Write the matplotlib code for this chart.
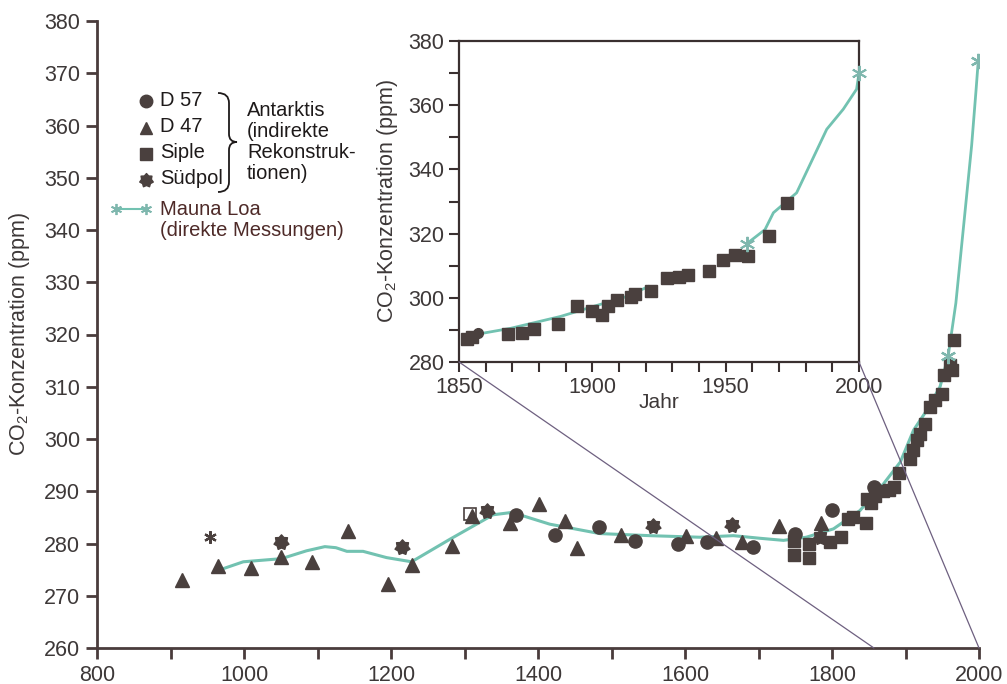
import numpy as np
import matplotlib
matplotlib.use("Agg")
import matplotlib.pyplot as plt
from matplotlib.path import Path
from matplotlib.patches import ConnectionPatch, PathPatch

plt.rcParams['font.family'] = ['Liberation Sans', 'DejaVu Sans']
plt.rcParams['mathtext.default'] = 'regular'

# ---------------- data (main chart) ----------------
d57_year = [1370, 1423, 1483, 1532, 1591, 1630, 1692, 1750, 1800, 1857]
d57_ppm = [285.5, 281.6, 283.2, 280.5, 279.9, 280.3, 279.4, 281.9, 286.5, 290.8]

d47_year = [916, 964, 1010, 1051, 1092, 1141, 1196, 1228, 1283, 1310, 1362, 1402,
            1437, 1453, 1513, 1602, 1642, 1678, 1728, 1785]
d47_ppm = [273.1, 275.7, 275.4, 277.5, 276.5, 282.4, 272.2, 275.9, 279.6, 285.3, 284.0, 287.6,
           284.4, 279.1, 281.6, 281.5, 281.0, 280.2, 283.4, 283.9]

siple_year = [1748, 1748, 1769, 1769, 1797, 1812, 1822, 1829, 1846, 1847, 1853, 1858,
              1870, 1877, 1884, 1891, 1906, 1910, 1915, 1920, 1926, 1933, 1940, 1949,
              1952, 1960, 1963, 1966]
siple_ppm = [280.5, 277.8, 280.0, 277.3, 280.2, 281.2, 284.7, 285.0, 284.0, 288.5, 287.8, 289.0,
             290.0, 290.3, 290.8, 293.5, 296.2, 297.8, 299.8, 301.0, 302.9, 306.2, 307.4, 308.7,
             312.3, 314.2, 313.2, 319.0]

suedpol_year = [1050, 1215, 1330, 1556, 1664, 1784]
suedpol_ppm = [280.3, 279.4, 286.2, 283.4, 283.6, 281.2]

open_square_year = [1308]
open_square_ppm = [285.6]

asterisk_year = [954]
asterisk_ppm = [281.2]

spline_year = [970, 999, 1051, 1085, 1110, 1125, 1140, 1162, 1194, 1228, 1280, 1339, 1362, 1375,
               1416, 1484, 1552, 1620, 1666, 1702, 1734, 1765, 1802, 1838, 1870, 1893,
               1911, 1929, 1947, 1958]
spline_ppm = [275.1, 276.5, 277.1, 278.6, 279.4, 279.2, 278.5, 278.5, 277.3, 276.5, 280.8, 285.5, 285.9, 285.5,
              283.7, 281.9, 281.5, 281.2, 281.5, 281.0, 280.6, 281.2, 282.8, 286.3, 291.4, 295.6,
              301.7, 305.5, 310.0, 315.8]

mauna_year = [1958, 1968.5, 1980, 1990, 1996, 1999]
mauna_ppm = [315.8, 326.0, 342.1, 356.2, 366.8, 372.4]
mauna_star_year = [1958, 1999]
mauna_star_ppm = [315.8, 372.4]

# ---------------- data (inset) ----------------
in_siple_year = [1853, 1855, 1868.5, 1873.7, 1878.1, 1887.2, 1894.4, 1899.8, 1903.8, 1906,
                 1909.4, 1914.4, 1916, 1921.9, 1928.1, 1932.6, 1936, 1943.9, 1949.1, 1953.5,
                 1958.5, 1966.3, 1972.9]
in_siple_ppm = [287.1, 287.9, 288.75, 289.0, 290.2, 291.9, 297.3, 295.9, 294.7, 297.3,
                299.4, 300.4, 301.25, 302.0, 306.1, 306.4, 307.2, 308.5, 311.7, 313.4,
                313.1, 319.2, 329.6]
in_d57_year = [1857]
in_d57_ppm = [289.0]
in_spline_year = [1853, 1869.4, 1888.1, 1900.4, 1912.9, 1921]
in_spline_ppm = [288.1, 290.5, 294.2, 297.3, 300.4, 303.5]
in_mauna_year = [1958, 1964.75, 1967.9, 1976.6, 1987.9, 1994.1, 1999.1, 2000]
in_mauna_ppm = [316.9, 321.25, 326.5, 332.7, 352.5, 358.75, 365.0, 370.0]
in_mauna_star_year = [1958, 2000]
in_mauna_star_ppm = [316.9, 370.0]

# ---------------- ticks / labels ----------------
main_xticks = list(range(800, 2001, 100))
main_xticklabels = ['800', '', '1000', '', '1200', '', '1400', '', '1600', '', '1800', '', '2000']
main_yticks = list(range(260, 381, 10))
inset_xticks = [1850, 1900, 1950, 2000]
inset_yticks = [280, 300, 320, 340, 360, 380]
ylabel_text = 'CO$_2$-Konzentration (ppm)'
inset_xlabel = 'Jahr'
legend_series = ['D 57', 'D 47', 'Siple', 'Südpol']
legend_group = 'Antarktis\n(indirekte\nRekonstruk-\ntionen)'
legend_mauna = 'Mauna Loa\n(direkte Messungen)'

# ---------------- styles ----------------
DARK = '#4a403e'
TEAL = '#72c2b1'
TXT = '#3d3838'
CONN = '#6e6080'

# 7-pointed fat star marker
n = 7
ang = np.linspace(0, 2 * np.pi, 2 * n, endpoint=False) + np.pi / 2
rad = np.where(np.arange(2 * n) % 2 == 0, 1.0, 0.72)
verts = np.column_stack([rad * np.cos(ang), rad * np.sin(ang)])
verts = np.vstack([verts, verts[0]])
STAR7 = Path(verts, [Path.MOVETO] + [Path.LINETO] * (2 * n - 1) + [Path.CLOSEPOLY])

W, H = 1007, 684
fig = plt.figure(figsize=(W / 100, H / 100), dpi=100)
ax = fig.add_axes([97 / W, 36 / H, 882 / W, 627 / H])

ax.plot(spline_year, spline_ppm, color=TEAL, lw=2.2, zorder=2, solid_capstyle='round',
        solid_joinstyle='round')
ax.plot(mauna_year, mauna_ppm, color=TEAL, lw=2.0, zorder=2)
ax.plot(mauna_star_year, mauna_star_ppm, ls='none', marker=(6, 2, 0), ms=11, mew=1.6,
        color='#7fb7ae', zorder=4)

ms = 9.5
ax.plot(d57_year, d57_ppm, ls='none', marker='o', ms=ms, color=DARK, zorder=3)
ax.plot(d47_year, d47_ppm, ls='none', marker='^', ms=ms, color=DARK, zorder=3)
ax.plot(siple_year, siple_ppm, ls='none', marker='s', ms=8, color=DARK, zorder=3)
ax.plot(suedpol_year, suedpol_ppm, ls='none', marker=STAR7, ms=11, color=DARK, zorder=3)
ax.plot(open_square_year, open_square_ppm, ls='none', marker='s', ms=9, mfc='none',
        mec=DARK, mew=1.2, zorder=3)
ax.plot(asterisk_year, asterisk_ppm, ls='none', marker=(6, 2, 0), ms=9, mew=1.6,
        color=DARK, zorder=3)

ax.set_xlim(800, 2000)
ax.set_ylim(260, 380)
ax.set_xticks(main_xticks)
ax.set_xticklabels(main_xticklabels)
ax.set_yticks(main_yticks)
for s in ['top', 'right']:
    ax.spines[s].set_visible(False)
for s in ['left', 'bottom']:
    ax.spines[s].set_linewidth(2.0)
    ax.spines[s].set_color('#4a3c3c')
ax.tick_params(direction='out', length=8, width=2, colors='#4a3c3c', labelsize=15.5,
               labelcolor=TXT, pad=4)
ax.set_ylabel(ylabel_text, fontsize=15.5, color=TXT)
ax.yaxis.set_label_coords(-0.074, 0.5)

# ---------------- legend (manual) ----------------
def fx(px):
    return px / W


def fy(py):
    return 1 - py / H


lx_mark, lx_text = 146, 160
rows_y = [101, 128, 154, 180]
mk_list = [('o', 9), ('^', 8.5), ('s', 8), (STAR7, 10)]
for (mk, sz), yy, lab in zip(mk_list, rows_y, legend_series):
    fig.lines.append(plt.Line2D([fx(lx_mark)], [fy(yy)], marker=mk, ms=sz,
                                color=DARK, ls='none', transform=fig.transFigure))
    fig.text(fx(lx_text), fy(yy - 1), lab, fontsize=14.5, color='#1e1a1a',
             va='center', ha='left')

# curly brace
bx0, bx1, bx2 = 218, 229, 237
by0, bym, by1 = 93, 142, 192
brace_pts = [(bx0, by0), (bx1, by0), (bx1, by0 + 10), (bx1, bym - 8), (bx1, bym), (bx2, bym),
             (bx1, bym), (bx1, bym + 8), (bx1, by1 - 10), (bx1, by1), (bx0, by1)]
brace_codes = [Path.MOVETO, Path.CURVE3, Path.CURVE3, Path.LINETO, Path.CURVE3, Path.CURVE3,
               Path.CURVE3, Path.CURVE3, Path.LINETO, Path.CURVE3, Path.CURVE3]
brace = Path([(fx(a), fy(b)) for a, b in brace_pts], brace_codes)
fig.add_artist(PathPatch(brace, fc='none', ec='#1e1a1a', lw=1.3, transform=fig.transFigure))

fig.text(fx(247), fy(142), legend_group, fontsize=14.5, color='#1e1a1a',
         va='center', ha='left', linespacing=1.13)
fig.lines.append(plt.Line2D([fx(116), fx(146)], [fy(209)] * 2, color=TEAL, lw=1.5,
                            marker=(6, 2, 0), ms=8, mew=1.3, mec='#7fb7ae',
                            transform=fig.transFigure))
fig.text(fx(lx_text), fy(220), legend_mauna, fontsize=14.5, color='#4e2a28',
         va='center', ha='left', linespacing=1.13)

# ---------------- inset ----------------
ax2 = fig.add_axes([459 / W, 322 / H, 400 / W, 321 / H])
ax2.plot(in_spline_year, in_spline_ppm, color=TEAL, lw=2.0, zorder=2)
ax2.plot(in_mauna_year, in_mauna_ppm, color=TEAL, lw=2.0, zorder=2)
ax2.plot(in_mauna_star_year, in_mauna_star_ppm, ls='none', marker=(6, 2, 0), ms=11, mew=1.4,
         color='#7fb7ae', zorder=4, clip_on=False)
ax2.plot(in_siple_year, in_siple_ppm, ls='none', marker='s', ms=8, color=DARK, zorder=3)
ax2.plot(in_d57_year, in_d57_ppm, ls='none', marker='o', ms=7, color=DARK, zorder=3)
ax2.set_xlim(1850, 2000)
ax2.set_ylim(280, 380)
ax2.set_xticks(inset_xticks)
ax2.set_xticks(list(range(1850, 2001, 10)), minor=True)
ax2.set_yticks(inset_yticks)
ax2.set_yticks(list(range(280, 381, 10)), minor=True)
for s in ax2.spines.values():
    s.set_linewidth(1.6)
    s.set_color('#3a3030')
ax2.tick_params(which='both', direction='out', length=7, width=1.5, colors='#3a3030',
                labelsize=15.5, labelcolor=TXT)
ax2.set_xlabel(inset_xlabel, fontsize=15, color=TXT, labelpad=-3)
ax2.set_ylabel(ylabel_text, fontsize=15.5, color=TXT, labelpad=6)

# connectors
for xa, xb in [(1850, 1857), (2000, 2000)]:
    con = ConnectionPatch(xyA=(xa, 280), coordsA=ax2.transData, xyB=(xb, 260),
                          coordsB=ax.transData, color=CONN, lw=0.9, zorder=1)
    fig.add_artist(con)

fig.savefig('out.png', dpi=100)
